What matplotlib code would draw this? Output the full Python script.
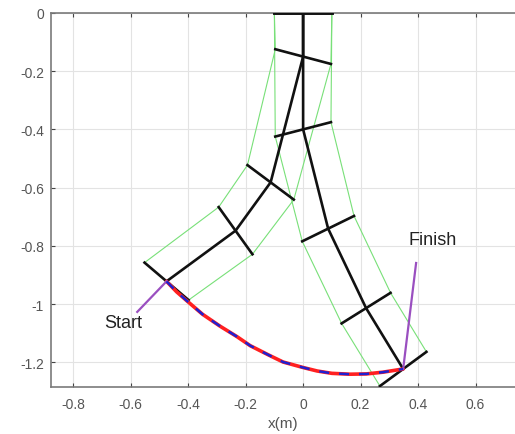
import matplotlib
matplotlib.use("Agg")
import matplotlib.pyplot as plt
import numpy as np

plt.rcParams['font.family'] = ['Liberation Sans', 'DejaVu Sans']

# joint positions of the arm (x, y) in metres
start_x = [0.0, 0.0, -0.113, -0.235, -0.475]
start_y = [0.0, -0.15, -0.582, -0.748, -0.922]
finish_x = [0.0, 0.0, 0.087, 0.219, 0.348]
finish_y = [0.0, -0.40, -0.741, -1.014, -1.223]
# orientation of the end-effector bar (deg)
start_tool_angle = -40.0
finish_tool_angle = 36.0
link_half_width = 0.1

# end-effector path between start and finish
path_x = [-0.475, -0.44, -0.403, -0.35, -0.289, -0.23, -0.184, -0.12, -0.07,
          0.0, 0.049, 0.10, 0.163, 0.22, 0.278, 0.348]
path_y = [-0.922, -0.958, -0.990, -1.035, -1.076, -1.112, -1.143, -1.175, -1.199,
          -1.218, -1.230, -1.238, -1.241, -1.240, -1.234, -1.223]

# pointer lines for the labels
start_ptr_x = [-0.475, -0.577]
start_ptr_y = [-0.922, -1.027]
finish_ptr_x = [0.348, 0.393]
finish_ptr_y = [-1.223, -0.859]

xticks = [-0.8, -0.6, -0.4, -0.2, 0, 0.2, 0.4, 0.6]
xticklabels = ['-0.8', '-0.6', '-0.4', '-0.2', '0', '0.2', '0.4', '0.6']
yticks = [0, -0.2, -0.4, -0.6, -0.8, -1, -1.2]
yticklabels = ['0', '-0.2', '-0.4', '-0.6', '-0.8', '-1', '-1.2']


def draw_arm(ax, px, py, tool_angle, w):
    pts = np.column_stack([px, py])
    d = np.diff(pts, axis=0)
    d = d / np.linalg.norm(d, axis=1)[:, None]
    # bar across each joint: normal of the outgoing link, tool bar at the end
    caps = list(np.column_stack([-d[:, 1], d[:, 0]]))
    t = np.radians(tool_angle)
    caps.append(np.array([np.cos(t), np.sin(t)]))
    caps = np.array(caps) * w
    for i in range(len(pts) - 1):
        quad = np.array([pts[i] + caps[i], pts[i + 1] + caps[i + 1],
                         pts[i + 1] - caps[i + 1], pts[i] - caps[i], pts[i] + caps[i]])
        ax.plot(quad[:, 0], quad[:, 1], color='#78e078', lw=0.8, zorder=2)
    for i in range(len(pts)):
        a = pts[i] + caps[i]
        b = pts[i] - caps[i]
        ax.plot([a[0], b[0]], [a[1], b[1]], color='#111111', lw=1.9, zorder=4)
    ax.plot(pts[:, 0], pts[:, 1], color='#111111', lw=1.9, zorder=4)


fig = plt.figure(figsize=(5.15, 4.35), dpi=100)
ax = fig.add_axes([0.099, 0.108, 0.901, 0.860])

draw_arm(ax, start_x, start_y, start_tool_angle, link_half_width)
draw_arm(ax, finish_x, finish_y, finish_tool_angle, link_half_width)

ax.plot(path_x, path_y, color='#ff2020', lw=2.6, zorder=5, solid_capstyle='round')
ax.plot(path_x, path_y, color='#2020d0', lw=1.8, ls=(0, (4, 4)), zorder=6)

ax.plot(start_ptr_x, start_ptr_y, color='#9a4fc0', lw=1.6, zorder=5)
ax.plot(finish_ptr_x, finish_ptr_y, color='#9a4fc0', lw=1.6, zorder=5)
ax.text(-0.626, -1.065, 'Start', fontsize=13, ha='center', va='center', color='#222222')
ax.text(0.449, -0.777, 'Finish', fontsize=13, ha='center', va='center', color='#222222')

ax.set_xlim(-0.877, 0.737)
ax.set_ylim(-1.285, 0)
ax.set_xticks(xticks)
ax.set_xticklabels(xticklabels)
ax.set_yticks(yticks)
ax.set_yticklabels(yticklabels)
ax.grid(True, color='#e3e3e3', lw=0.8)
ax.set_axisbelow(True)
ax.tick_params(direction='in', top=True, length=3, labelsize=10,
               colors='#444444', labelcolor='#555555')
ax.tick_params(axis='x', pad=7)
ax.tick_params(axis='y', pad=5)
for s in ['left', 'bottom', 'top']:
    ax.spines[s].set_color('#7a7a7a')
    ax.spines[s].set_linewidth(1.2)
ax.spines['right'].set_visible(False)
ax.set_xlabel('x(m)', fontsize=11, color='#555555', labelpad=4)

fig.savefig('out.png', dpi=100)
